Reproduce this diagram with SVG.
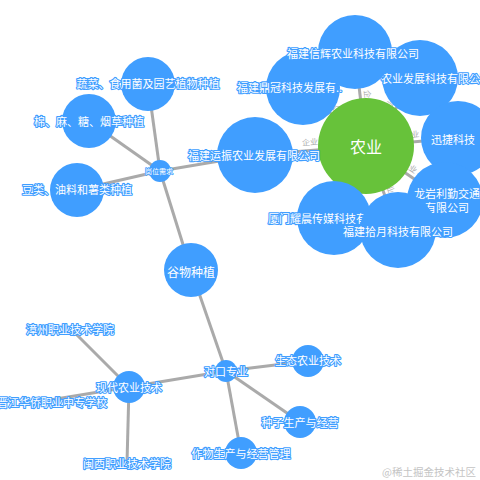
<svg xmlns="http://www.w3.org/2000/svg" width="480" height="480" viewBox="0 0 480 480">
<style>
text{font-family:"Noto Sans CJK SC","Noto Sans",sans-serif;dominant-baseline:central;text-anchor:middle}
.e{stroke:#aaaaaa;stroke-width:3;fill:none}
.n{fill:#409eff}
.g{fill:#67c23a}
.l{fill:#ffffff;stroke:#409eff;stroke-width:2.2;paint-order:stroke;stroke-linejoin:round;font-size:11px}
.s{font-size:7px;stroke-width:1.5}
.el{fill:#aaaaaa;font-size:8px}
.wm{fill:#c4c4c4;font-size:10.5px;text-anchor:end}
</style>
<rect width="480" height="480" fill="#ffffff"/>
<g id="connectors">
<line class="e" x1="366" y1="146" x2="355" y2="52"/>
<line class="e" x1="366" y1="146" x2="303" y2="88"/>
<line class="e" x1="366" y1="146" x2="420" y2="78"/>
<line class="e" x1="366" y1="146" x2="458" y2="138"/>
<line class="e" x1="366" y1="146" x2="445" y2="200"/>
<line class="e" x1="366" y1="146" x2="398" y2="230"/>
<line class="e" x1="366" y1="146" x2="334" y2="218"/>
<line class="e" x1="366" y1="146" x2="255" y2="155"/>
<line class="e" x1="160" y1="171" x2="148" y2="84"/>
<line class="e" x1="160" y1="171" x2="89" y2="121"/>
<line class="e" x1="160" y1="171" x2="77" y2="190"/>
<line class="e" x1="160" y1="171" x2="255" y2="155"/>
<line class="e" x1="160" y1="171" x2="191" y2="270"/>
<line class="e" x1="191" y1="270" x2="226" y2="371"/>
<line class="e" x1="226" y1="371" x2="129" y2="387"/>
<line class="e" x1="226" y1="371" x2="308" y2="361"/>
<line class="e" x1="226" y1="371" x2="300" y2="422"/>
<line class="e" x1="226" y1="371" x2="241" y2="453"/>
<line class="e" x1="129" y1="387" x2="74" y2="332"/>
<line class="e" x1="129" y1="387" x2="50" y2="400"/>
<line class="e" x1="129" y1="387" x2="127" y2="463"/>
<text class="el" transform="translate(368.4,98.1) rotate(83.3)">企业</text>
<text class="el" transform="translate(339.9,111.1) rotate(42.6)">企业</text>
<text class="el" transform="translate(386.7,107) rotate(-51.5)">企业</text>
<text class="el" transform="translate(411.3,134) rotate(-5)">企业</text>
<text class="el" transform="translate(410,166.4) rotate(34.4)">企业</text>
<text class="el" transform="translate(389.5,185.1) rotate(69.1)">企业</text>
<text class="el" transform="translate(342.7,178.8) rotate(-66)">企业</text>
<text class="el" transform="translate(309.9,141.5) rotate(-4.6)">企业</text>
</g>
<g id="n-nongye"><circle class="g" cx="366" cy="146" r="48"/><text x="366" y="146" style="fill:#fff;font-size:16px">农业</text></g>
<g id="n-guan"><circle class="n" cx="303" cy="88" r="37"/><text class="l" x="237" y="87" style="text-anchor:start">福建鼎冠科技发展有..</text></g>
<g id="n-fazhan"><circle class="n" cx="420" cy="78" r="38"/><text class="l" x="381" y="78" style="text-anchor:start">农业发展科技有限公司</text></g>
<g id="n-xinhui"><circle class="n" cx="355" cy="52" r="37"/><text class="l" x="353" y="53">福建信辉农业科技有限公司</text></g>
<g id="n-xunjie"><circle class="n" cx="458" cy="138" r="37"/><text class="l" x="453" y="139">迅捷科技</text></g>
<g id="n-longyan"><circle class="n" cx="445" cy="200" r="38"/><text class="l"><tspan x="447" y="193">龙岩利勤交通</tspan><tspan x="447" y="207">有限公司</tspan></text></g>
<g id="n-xiamen"><circle class="n" cx="334" cy="218" r="37"/><text class="l" x="334" y="218">厦门耀晨传媒科技有限公司</text></g>
<g id="n-shiyue"><circle class="n" cx="398" cy="230" r="38"/><text class="l" x="398" y="231">福建拾月科技有限公司</text></g>
<g id="n-yunzhen"><circle class="n" cx="255" cy="155" r="38"/><text class="l" x="254" y="155">福建运振农业发展有限公司</text></g>
<g id="n-gangwei"><circle class="n" cx="160" cy="171" r="11"/><text class="l s" x="159" y="171">岗位需求</text></g>
<g id="n-shucai"><circle class="n" cx="148" cy="84" r="27"/><text class="l" x="148" y="83">蔬菜、食用菌及园艺植物种植</text></g>
<g id="n-mian"><circle class="n" cx="89" cy="121" r="27"/><text class="l" x="89" y="121">棉、麻、糖、烟草种植</text></g>
<g id="n-dou"><circle class="n" cx="77" cy="190" r="27"/><text class="l" x="77" y="189">豆类、油料和薯类种植</text></g>
<g id="n-guwu"><circle class="n" cx="191" cy="270" r="27"/><text class="l" x="191" y="271" style="font-size:12px">谷物种植</text></g>
<g id="n-duikou"><circle class="n" cx="226" cy="371" r="11"/><text class="l" x="226" y="371">对口专业</text></g>
<g id="n-xiandai"><circle class="n" cx="129" cy="387" r="16"/><text class="l" x="129" y="387">现代农业技术</text></g>
<g id="n-shengtai"><circle class="n" cx="308" cy="361" r="16"/><text class="l" x="308" y="360">生态农业技术</text></g>
<g id="n-zhongzi"><circle class="n" cx="300" cy="422" r="16"/><text class="l" x="300" y="422">种子生产与经营</text></g>
<g id="n-zuowu"><circle class="n" cx="241" cy="453" r="16"/><text class="l" x="241" y="453">作物生产与经营管理</text></g>
<g id="n-zhangzhou"><text class="l" x="70" y="329">漳州职业技术学院</text></g>
<g id="n-jinjiang"><text class="l" x="52" y="402">晋江华侨职业中专学校</text></g>
<g id="n-minxi"><text class="l" x="127" y="463">闽西职业技术学院</text></g>
<text class="wm" x="476" y="471">@稀土掘金技术社区</text>
</svg>
